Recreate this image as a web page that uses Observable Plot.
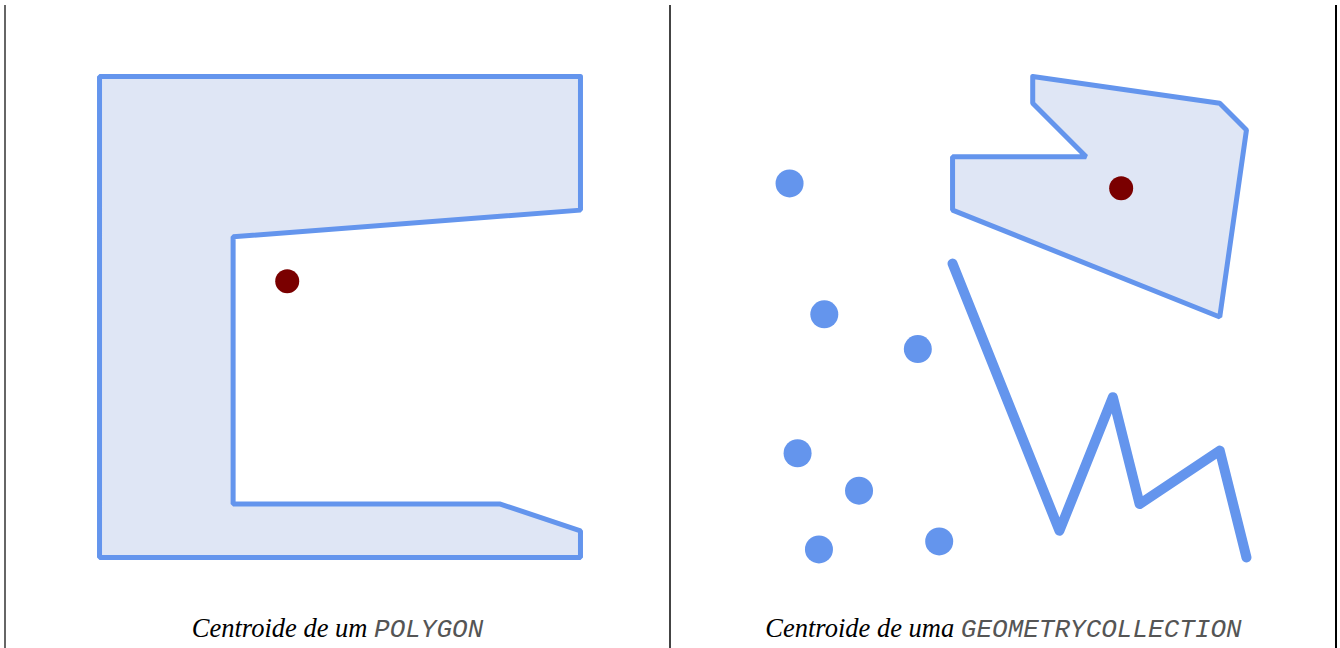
<!DOCTYPE html>
<html>
<head>
<meta charset="utf-8">
<script src="https://cdn.jsdelivr.net/npm/d3@7"></script>
<script src="https://cdn.jsdelivr.net/npm/@observablehq/plot@0.6"></script>
<style>
  html, body { margin: 0; padding: 0; background: #fff; }
  #wrap { position: relative; width: 1340px; height: 648px; overflow: hidden; }
  .vline { position: absolute; top: 5px; bottom: 0; width: 2px; }
  .panel { position: absolute; top: 0; width: 665px; height: 648px; }
  .panel svg { position: absolute; left: 0; top: 0; overflow: visible; }
  .caption { position: absolute; left: 0; width: 665px; top: 615px; text-align: center;
             font: italic 26.5px/26px "Liberation Serif", "Times New Roman", serif; color: #000; white-space: nowrap; }
  .caption code { font: italic 26px/26px "Liberation Mono", "Courier New", monospace; color: #555; }
</style>
</head>
<body>
<div id="wrap">
  <div class="vline" style="left:4px;background:#666"></div>
  <div class="vline" style="left:669px;background:#444"></div>
  <div class="vline" style="left:1335px;background:#000"></div>
  <div class="panel" id="p1" style="left:5px"></div>
  <div class="panel" id="p2" style="left:671px"></div>
</div>
<script>
// Panel 1: POLYGON
const polygonA = [[190,190],[10,190],[10,10],[190,10],[190,20],[160,30],[60,30],[60,130],[190,140]];
const centroidA = [[80.25,113.4]];
// Panel 2: GEOMETRYCOLLECTION
const polygonB = [[110,190],[110,180],[130,160],[80,160],[80,140],[180,100],[190,170],[180,180]];
const lineB = [[80,120],[120,20],[140,70],[150,30],[180,50],[190,10]];
const pointsB = [[19,150],[32,101],[67,88],[22,49],[45,35],[30,13],[75,16]];
const centroidB = [[143.1,148.2]];
// Captions
const captionText = ["Centroide de um", "Centroide de uma"];
const captionCode = ["POLYGON", "GEOMETRYCOLLECTION"];

const BLUE = "#6495ed", FILL = "#dfe6f5", RED = "#7a0000";
const closed = ring => ring.concat([ring[0]]);

function base(marks) {
  return Plot.plot({
    width: 665, height: 600,
    margin: 0,
    x: {domain: [0, 200], range: [67.3, 601.7], axis: null},
    y: {domain: [0, 200], range: [583.7, 49.3], axis: null},
    marks
  });
}

const p1 = base([
  Plot.line(closed(polygonA), {x: d => d[0], y: d => d[1], fill: FILL, stroke: BLUE, strokeWidth: 5, strokeLinejoin: "miter"}),
  Plot.dot(centroidA, {x: d => d[0], y: d => d[1], r: 12, fill: RED, stroke: "none"})
]);
const p2 = base([
  Plot.line(closed(polygonB), {x: d => d[0], y: d => d[1], fill: FILL, stroke: BLUE, strokeWidth: 5, strokeLinejoin: "miter"}),
  Plot.line(lineB, {x: d => d[0], y: d => d[1], stroke: BLUE, strokeWidth: 10, strokeLinejoin: "round", strokeLinecap: "round"}),
  Plot.dot(pointsB, {x: d => d[0], y: d => d[1], r: 14, fill: BLUE, stroke: "none"}),
  Plot.dot(centroidB, {x: d => d[0], y: d => d[1], r: 12, fill: RED, stroke: "none"})
]);

[[p1, "p1", 0], [p2, "p2", 1]].forEach(([svg, id, i]) => {
  const el = document.getElementById(id);
  el.appendChild(svg);
  const cap = document.createElement("div");
  cap.className = "caption";
  cap.appendChild(document.createTextNode(captionText[i] + " "));
  const code = document.createElement("code");
  code.textContent = captionCode[i];
  cap.appendChild(code);
  el.appendChild(cap);
});
</script>
</body>
</html>
